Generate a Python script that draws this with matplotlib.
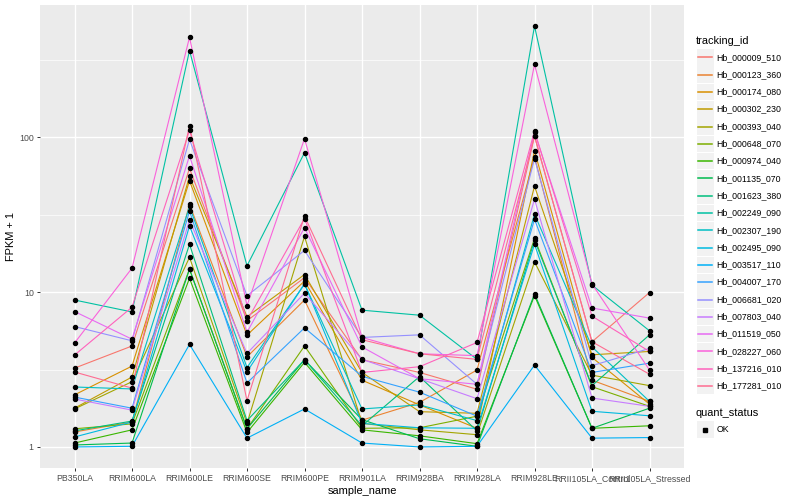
import numpy as np
import matplotlib
matplotlib.use("Agg")
import matplotlib.pyplot as plt
from matplotlib.lines import Line2D
from matplotlib.patches import Rectangle

plt.rcParams['font.family'] = ['Liberation Sans', 'DejaVu Sans']

samples = ["PB350LA", "RRIM600LA", "RRIM600LE", "RRIM600SE", "RRIM600PE",
           "RRIM901LA", "RRIM928BA", "RRIM928LA", "RRIM928LE",
           "RRII105LA_Control", "RRII105LA_Stressed"]

tracking_ids = ["Hb_000009_510", "Hb_000123_360", "Hb_000174_080", "Hb_000302_230",
                "Hb_000393_040", "Hb_000648_070", "Hb_000974_040", "Hb_001135_070",
                "Hb_001623_380", "Hb_002249_090", "Hb_002307_190", "Hb_002495_090",
                "Hb_003517_110", "Hb_004007_170", "Hb_006681_020", "Hb_007803_040",
                "Hb_011519_050", "Hb_028227_060", "Hb_137216_010", "Hb_177281_010"]

# ggplot hue palette, 20 levels
colors = ["#F8766D", "#EA8331", "#D89000", "#C09B00", "#A3A500", "#7CAE00",
          "#39B600", "#00BB4E", "#00BF7D", "#00C1A3", "#00BFC4", "#00BAE0",
          "#00B0F6", "#35A2FF", "#9590FF", "#C77CFF", "#E76BF3", "#FA62DB",
          "#FF62BC", "#FF6C91"]

# FPKM + 1, one row per tracking_id, one column per sample
fpkm = [
    [3.23, 4.49, 63, 6.54, 12.4, 3.66, 3.03, 2.36, 102, 4.78, 9.95],
    [1.25, 1.45, 37, 3.82, 8.9, 1.49, 1.94, 3.14, 75, 2.7, 1.97],
    [2.17, 3.33, 52.5, 5.28, 11.8, 2.7, 1.87, 1.32, 82, 3.79, 1.89],
    [1.78, 2.83, 56, 6.93, 13.0, 3.03, 1.69, 1.65, 48.4, 3.94, 4.14],
    [1.76, 2.64, 16.8, 1.42, 22.9, 1.42, 1.29, 1.2, 15.7, 2.91, 2.49],
    [1.31, 1.41, 14.1, 1.31, 4.49, 1.32, 1.33, 1.58, 22.3, 2.45, 1.83],
    [1.06, 1.29, 12.3, 1.24, 3.52, 1.29, 1.18, 1.05, 9.5, 1.32, 1.37],
    [1.03, 1.06, 14.1, 1.31, 3.66, 1.5, 1.13, 1.01, 9.75, 1.32, 1.78],
    [1.27, 1.47, 20.4, 1.48, 3.66, 1.37, 2.85, 1.27, 21.7, 2.49, 5.3],
    [8.9, 7.45, 364, 14.8, 79.6, 7.65, 7.1, 3.68, 524, 11.1, 5.63],
    [2.44, 2.37, 35.8, 3.26, 11.3, 1.76, 1.87, 1.48, 31.9, 4.43, 1.97],
    [1.16, 1.45, 26.8, 3.06, 11.3, 1.42, 1.33, 1.32, 20.4, 1.7, 1.59],
    [1.0, 1.01, 4.6, 1.14, 1.76, 1.06, 1.0, 1.01, 3.38, 1.14, 1.15],
    [2.1, 1.78, 33.4, 2.59, 5.88, 2.86, 2.26, 1.58, 29.6, 3.03, 3.48],
    [6.0, 4.85, 97, 9.48, 18.6, 5.1, 5.3, 2.54, 73, 3.35, 4.33],
    [2.04, 1.73, 29.2, 4.02, 9.85, 3.68, 2.76, 2.05, 39.9, 2.07, 1.83],
    [7.5, 4.97, 76, 5.5, 26.1, 4.43, 2.76, 2.54, 108, 7.9, 6.8],
    [4.69, 14.3, 443, 8.2, 98, 5.1, 4.0, 3.89, 296, 11.3, 3.14],
    [3.92, 8.0, 111, 6.54, 29.9, 3.03, 3.3, 4.73, 110, 7.0, 4.14],
    [3.05, 2.40, 119, 1.99, 31, 4.93, 4.0, 3.68, 102, 4.78, 2.95],
]

fig = plt.figure(figsize=(8, 5), dpi=100)
ax = fig.add_axes([40/800, 1 - 468/500, 644/800, 463/500])
ax.set_facecolor("#EBEBEB")

x = np.arange(len(samples))
for vals, c in zip(fpkm, colors):
    ax.plot(x, vals, color=c, lw=0.8, zorder=2)
for vals in fpkm:
    ax.plot(x, vals, ls="none", marker="o", ms=2.9, color="black", zorder=3)

ax.set_yscale("log")
allv = np.array(fpkm)
lo, hi = np.log10(allv.min()), np.log10(allv.max())
pad = 0.05 * (hi - lo)
ax.set_ylim(10 ** (lo - pad), 10 ** (hi + pad))
ax.set_xlim(-0.6, len(samples) - 0.4)

ax.set_yticks([1, 10, 100])
ax.set_yticklabels(["1", "10", "100"])
ax.set_yticks([10 ** 0.5, 10 ** 1.5, 10 ** 2.5], minor=True)
ax.yaxis.set_minor_formatter(matplotlib.ticker.NullFormatter())
ax.set_xticks(x)
ax.set_xticklabels(samples)

ax.grid(which="major", color="white", lw=1.0)
ax.grid(which="minor", axis="y", color="white", lw=0.5)
ax.set_axisbelow(True)
for s in ax.spines.values():
    s.set_visible(False)
ax.tick_params(which="major", length=2.5, width=0.7, color="#333333",
               labelsize=6.3, labelcolor="#4D4D4D", pad=2)
ax.tick_params(which="minor", length=0)

ax.set_xlabel("sample_name", fontsize=7.9, labelpad=2)
ax.set_ylabel("FPKM + 1", fontsize=7.9, labelpad=2)

# legend, drawn by hand in pixel units
def px(xp, yp):
    return xp / 800, 1 - yp / 500

fig.text(*px(696, 41), "tracking_id", fontsize=7.9, va="center", ha="left")
y0, dy = 57.3, 17.3
for i, (name, c) in enumerate(zip(tracking_ids, colors)):
    yc = y0 + i * dy
    bx, by = px(697, yc + 8.3)
    fig.add_artist(Rectangle((bx, by), 16.5/800, 16.6/500, transform=fig.transFigure,
                             facecolor="#F2F2F2", edgecolor="none"))
    fig.add_artist(Line2D([698/800, 712/800], [1 - yc/500] * 2, transform=fig.transFigure,
                          color=c, lw=1.1))
    fig.text(*px(716.5, yc), name, fontsize=6.3, va="center", ha="left")

yq = 412.7
fig.text(*px(696, yq), "quant_status", fontsize=7.9, va="center", ha="left")
yo = 429.5
bx, by = px(697, yo + 8.3)
fig.add_artist(Rectangle((bx, by), 16.5/800, 16.6/500, transform=fig.transFigure,
                         facecolor="#F2F2F2", edgecolor="none"))
fig.add_artist(Line2D([705/800], [1 - yo/500], transform=fig.transFigure,
                      ls="none", marker="s", ms=2.6, color="black"))
fig.text(*px(716.5, yo), "OK", fontsize=6.3, va="center", ha="left")

fig.savefig("out.png", dpi=100)
